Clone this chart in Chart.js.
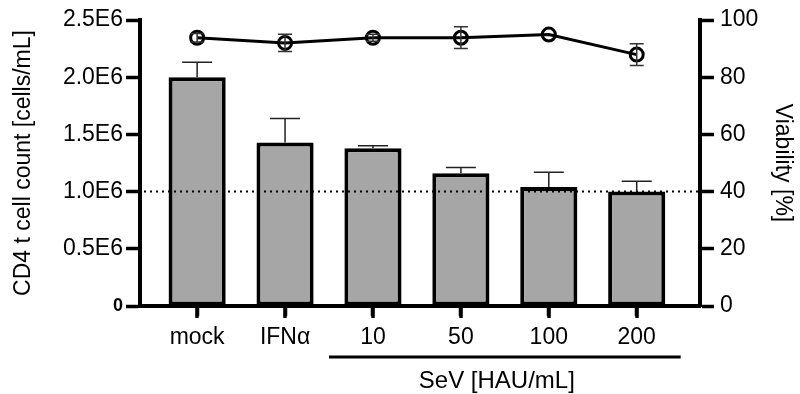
<!DOCTYPE html>
<html>
<head>
<meta charset="utf-8">
<script src="https://cdn.jsdelivr.net/npm/chart.js@4/dist/chart.umd.min.js"></script>
<style>
  html, body { margin: 0; padding: 0; background: #fff; }
</style>
</head>
<body>
<canvas id="chart" width="800" height="394"></canvas>
<script>
// data
const groups = ['mock', 'IFNα', '10', '50', '100', '200'];
const cellCount = [2.0e6, 1.43e6, 1.38e6, 1.16e6, 1.04e6, 1.0e6];
const cellErr = [0.13e6, 0.21e6, 0.02e6, 0.05e6, 0.13e6, 0.09e6];
const viability = [93.8, 92.0, 93.8, 93.8, 94.9, 87.9];
const viabErr = [1.5, 3.0, 1.2, 3.8, 0, 3.8];
const countTicks = [0, 0.5e6, 1.0e6, 1.5e6, 2.0e6, 2.5e6];
const countTickLabels = ['0', '0.5E6', '1.0E6', '1.5E6', '2.0E6', '2.5E6'];
const viabTicks = [0, 20, 40, 60, 80, 100];
const refLine = 1.0e6;
const sevLabel = 'SeV [HAU/mL]';
const sevGroups = [2, 5]; // first and last SeV dose index

const FONT = 'Liberation Sans, Arial, sans-serif';
const FS = 23;

// error bars, dotted 1.0E6 line, category tick marks and the SeV bracket
const extras = {
  id: 'extras',
  afterDatasetsDraw(chart) {
    const { ctx, chartArea: a, scales: { x, y, y1 } } = chart;
    ctx.save();
    ctx.strokeStyle = '#000';
    ctx.lineWidth = 2;
    ctx.setLineDash([2, 4]);
    const ry = y.getPixelForValue(refLine);
    ctx.beginPath(); ctx.moveTo(a.left + 4, ry); ctx.lineTo(a.right, ry); ctx.stroke();
    ctx.setLineDash([]);

    ctx.strokeStyle = '#222';
    ctx.lineWidth = 1.5;
    cellCount.forEach((v, i) => {
      const px = x.getPixelForValue(i);
      const top = y.getPixelForValue(v);
      const e = y.getPixelForValue(v + cellErr[i]);
      ctx.beginPath();
      ctx.moveTo(px, top); ctx.lineTo(px, e);
      ctx.moveTo(px - 15, e); ctx.lineTo(px + 15, e);
      ctx.stroke();
    });

    ctx.strokeStyle = '#333';
    viability.forEach((v, i) => {
      if (!viabErr[i]) return;
      const px = x.getPixelForValue(i);
      const hi = y1.getPixelForValue(v + viabErr[i]);
      const lo = y1.getPixelForValue(v - viabErr[i]);
      ctx.beginPath();
      ctx.moveTo(px, hi); ctx.lineTo(px, lo);
      ctx.moveTo(px - 7, hi); ctx.lineTo(px + 7, hi);
      ctx.moveTo(px - 7, lo); ctx.lineTo(px + 7, lo);
      ctx.stroke();
    });

    // tick marks under each group
    ctx.strokeStyle = '#000';
    ctx.lineWidth = 3.5;
    groups.forEach((_, i) => {
      const px = Math.round(x.getPixelForValue(i));
      ctx.beginPath(); ctx.moveTo(px, a.bottom); ctx.lineTo(px, a.bottom + 12); ctx.stroke();
    });

    const x0 = x.getPixelForValue(sevGroups[0] - 0.5);
    const x1 = x.getPixelForValue(sevGroups[1] + 0.5);
    const by = a.bottom + 51;
    ctx.lineWidth = 3;
    ctx.beginPath(); ctx.moveTo(x0, by); ctx.lineTo(x1, by); ctx.stroke();
    ctx.fillStyle = '#000';
    ctx.font = '24px ' + FONT;
    ctx.textAlign = 'center';
    ctx.textBaseline = 'middle';
    ctx.fillText(sevLabel, (x0 + x1) / 2 - 8, by + 24);
    ctx.restore();
  }
};

const axisGrid = { display: true, drawOnChartArea: false, drawTicks: true, offset: false, color: '#000', tickColor: '#000', tickWidth: 3.5 };

new Chart(document.getElementById('chart'), {
  type: 'bar',
  data: {
    datasets: [
      {
        type: 'line',
        data: viability.map((v, i) => ({ x: i, y: v })),
        yAxisID: 'y1',
        borderColor: '#000',
        borderWidth: 3,
        pointRadius: 6.5,
        pointBorderWidth: 3,
        pointBorderColor: '#000',
        pointBackgroundColor: 'rgba(0,0,0,0)',
        order: 0
      },
      {
        type: 'bar',
        data: cellCount.map((v, i) => ({ x: i, y: v })),
        yAxisID: 'y',
        backgroundColor: '#a6a6a6',
        borderColor: '#000',
        borderWidth: 4,
        borderSkipped: false,
        barPercentage: 0.65,
        categoryPercentage: 1,
        order: 1
      }
    ]
  },
  options: {
    responsive: false,
    animation: false,
    devicePixelRatio: 1,
    layout: { padding: { top: 20 } },
    plugins: { legend: { display: false }, tooltip: { enabled: false } },
    scales: {
      x: {
        type: 'linear',
        offset: false,
        min: -0.65,
        max: 5.72,
        afterBuildTicks: s => { s.ticks = groups.map((_, i) => ({ value: i })); },
        afterFit: s => { s.height = 88; },
        ticks: { callback: v => groups[v], color: '#000', font: { family: FONT, size: FS }, padding: 8, maxRotation: 0, autoSkip: false },
        grid: { ...axisGrid, tickLength: 10 },
        border: { display: true, color: '#000', width: 4 }
      },
      y: {
        position: 'left',
        min: 0,
        max: 2.5e6,
        afterBuildTicks: s => { s.ticks = countTicks.map(v => ({ value: v })); },
        afterFit: s => { s.width = 140; },
        ticks: {
          callback: (v, i) => countTickLabels[i],
          color: '#000',
          padding: 3,
          font: c => c.tick && c.tick.value === 0 ? { family: FONT, size: 18, weight: 'bold' } : { family: FONT, size: FS }
        },
        grid: { ...axisGrid, tickLength: 14 },
        border: { display: true, color: '#000', width: 4 },
        title: { display: true, text: 'CD4 t cell count [cells/mL]', color: '#000', font: { family: FONT, size: FS }, padding: { top: 10, bottom: 0 } }
      },
      y1: {
        position: 'right',
        min: 0,
        max: 100,
        afterBuildTicks: s => { s.ticks = viabTicks.map(v => ({ value: v })); },
        afterFit: s => { s.width = 100; },
        ticks: { color: '#000', padding: 6, font: { family: FONT, size: FS } },
        grid: { ...axisGrid, tickLength: 14 },
        border: { display: true, color: '#000', width: 4 },
        title: { display: true, text: 'Viability [%]', color: '#000', font: { family: FONT, size: FS }, padding: { top: 4, bottom: 0 } }
      }
    }
  },
  plugins: [extras]
});
</script>
</body>
</html>
